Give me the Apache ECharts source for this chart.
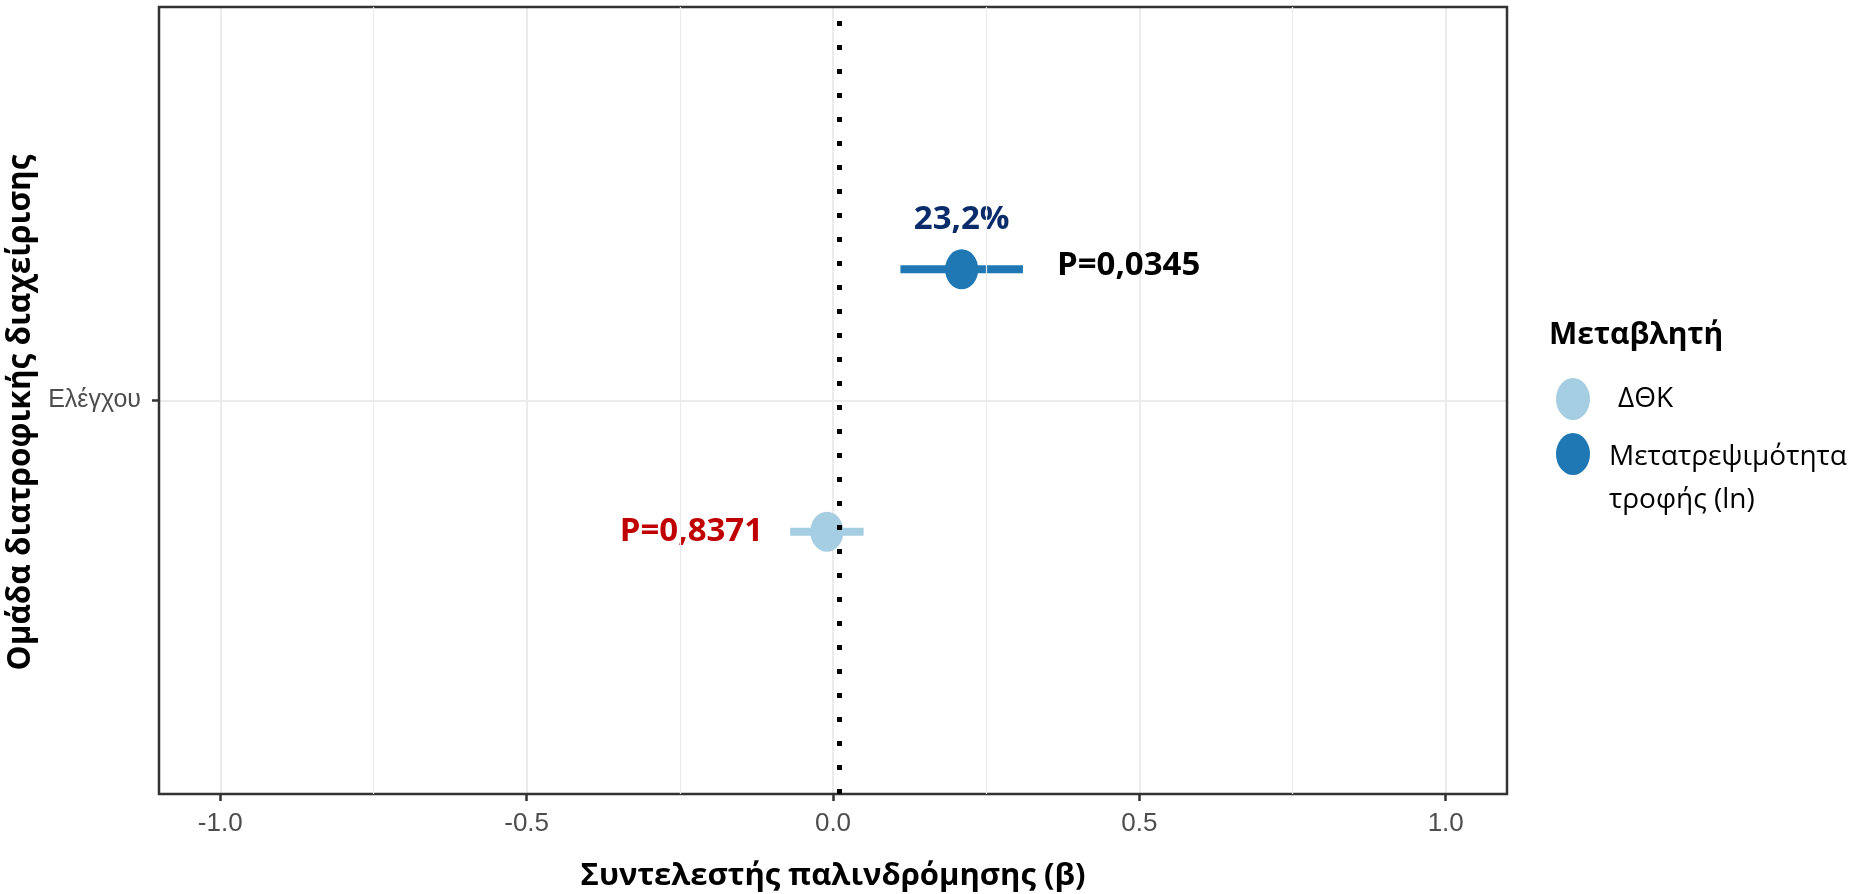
<!DOCTYPE html>
<html>
<head>
<meta charset="utf-8">
<style>
html,body{margin:0;padding:0;background:#fff;}
#chart{width:1862px;height:894px;}
</style>
<script src="https://cdn.jsdelivr.net/npm/echarts@6/dist/echarts.min.js"></script>
</head>
<body>
<div id="chart"></div>
<script>
// ---- data ----
const categories = ['Ελέγχου'];
const seriesNames = ['ΔΘΚ', 'Μετατρεψιμότητα τροφής (ln)'];
const estimates = [-0.01, 0.21];
const lowerCI = [-0.07, 0.11];
const upperCI = [0.05, 0.31];
const pLabels = ['P=0,8371', 'P=0,0345'];
const pctLabels = ['', '23,2%'];
const refLineValue = 0.01;
const xTicks = [-1.0, -0.5, 0.0, 0.5, 1.0];
const xMinorTicks = [-0.75, -0.25, 0.25, 0.75];
const yTicks = [1];

// ---- styles ----
const colors = ['#A6CEE3', '#1F78B4'];
const pLabelColors = ['#C00000', '#000000'];
const pctColor = '#0B2C6B';
const dodge = [-0.2, 0.2];
const boldFont = '"Open Sans", "Noto Sans", sans-serif';
const tickFont = '"Liberation Sans", Arial, sans-serif';

function makeRenderItem(si) {
  return function (params, api) {
    const yPos = api.value(0) + 1 + dodge[si];
    const pC = api.coord([api.value(1), yPos]);
    const pL = api.coord([api.value(2), yPos]);
    const pH = api.coord([api.value(3), yPos]);
    const children = [
      { type: 'line', shape: { x1: pL[0], y1: pL[1], x2: pH[0], y2: pH[1] },
        style: { stroke: colors[si], lineWidth: 8, lineCap: 'butt' } },
      { type: 'circle', shape: { cx: 0, cy: 0, r: 20 }, x: pC[0], y: pC[1], scaleX: 0.83,
        style: { fill: colors[si] } }
    ];
    if (si === 0) {
      children.push({ type: 'text', x: pL[0] - 27, y: pC[1],
        style: { text: pLabels[si], fill: pLabelColors[si], font: 'bold 33px ' + boldFont,
          align: 'right', verticalAlign: 'middle' } });
    } else {
      children.push({ type: 'text', x: pH[0] + 34, y: pC[1] - 4,
        style: { text: pLabels[si], fill: pLabelColors[si], font: 'bold 33px ' + boldFont,
          align: 'left', verticalAlign: 'middle' } });
    }
    if (pctLabels[si]) {
      children.push({ type: 'text', x: pC[0], y: pC[1] - 50,
        style: { text: pctLabels[si], fill: pctColor, font: 'bold 33px ' + boldFont,
          align: 'center', verticalAlign: 'middle' } });
    }
    return { type: 'group', children: children };
  };
}

const chart = echarts.init(document.getElementById('chart'), null, { renderer: 'canvas' });

const series = seriesNames.map(function (name, si) {
  return {
    type: 'custom', name: name, z: 3,
    renderItem: makeRenderItem(si),
    encode: { x: [1, 2, 3], y: 0 },
    data: categories.map(function (c, ci) { return [ci, estimates[si], lowerCI[si], upperCI[si]]; })
  };
});
series.unshift({
  type: 'line', name: 'minorGrid', data: [], z: 1, silent: true,
  markLine: { silent: true, symbol: 'none', label: { show: false }, animation: false,
    lineStyle: { color: '#EBEBEB', width: 1.2, type: 'solid' },
    data: xMinorTicks.map(function (v) { return { xAxis: v }; }) }
});
series.push({
  type: 'line', name: 'refLine', data: [], z: 10, silent: true,
  markLine: { silent: true, symbol: 'none', label: { show: false }, animation: false,
    lineStyle: { color: '#000', width: 5, type: [5, 19], cap: 'butt' },
    data: [{ xAxis: refLineValue }] }
});

const option = {
  animation: false,
  backgroundColor: '#fff',
  grid: { left: 159, right: 355, top: 7, bottom: 100, show: true, borderColor: '#333333', borderWidth: 2.5,
    backgroundColor: 'transparent', z: 5, containLabel: false, outerBoundsMode: 'none' },
  xAxis: {
    type: 'value', min: -1.1, max: 1.1,
    name: 'Συντελεστής παλινδρόμησης (β)', nameLocation: 'middle', nameGap: 67,
    nameTextStyle: { fontFamily: boldFont, fontWeight: 'bold', fontSize: 31, color: '#000' },
    axisLine: { show: false, onZero: false },
    axisTick: { show: true, length: 7, customValues: xTicks, lineStyle: { color: '#333', width: 2.5 } },
    axisLabel: { customValues: xTicks, margin: 17, color: '#4D4D4D', fontFamily: tickFont, fontSize: 26,
      formatter: function (v) { return v.toFixed(1); } },
    splitLine: { show: true, lineStyle: { color: '#EBEBEB', width: 2 } }
  },
  yAxis: {
    type: 'value', min: 0.4, max: 1.6,
    name: 'Ομάδα διατροφικής διαχείρισης', nameLocation: 'middle', nameGap: 78,
    nameTextStyle: { fontFamily: boldFont, fontWeight: 'bold', fontSize: 31.5, color: '#000', padding: [0, 24, 0, 0] },
    axisLine: { show: false, onZero: false },
    axisTick: { show: true, length: 7, customValues: yTicks, lineStyle: { color: '#333', width: 2.5 } },
    axisLabel: { customValues: yTicks, margin: 18, color: '#4D4D4D', fontFamily: tickFont, fontSize: 25,
      formatter: function (v) { return categories[Math.round(v) - 1]; } },
    splitLine: { show: true, lineStyle: { color: '#EBEBEB', width: 2 } }
  },
  graphic: [
    { type: 'text', left: 1549, top: 341 - 21, style: { text: 'Μεταβλητή', font: 'bold 30px ' + boldFont, fill: '#000' } },
    { type: 'circle', shape: { cx: 0, cy: 0, r: 21 }, x: 1573, y: 399, scaleX: 0.81, style: { fill: colors[0] } },
    { type: 'text', x: 1618, y: 399, style: { text: seriesNames[0], font: '28px ' + boldFont, fill: '#000', verticalAlign: 'middle' } },
    { type: 'circle', shape: { cx: 0, cy: 0, r: 21 }, x: 1573, y: 454, scaleX: 0.81, style: { fill: colors[1] } },
    { type: 'text', x: 1609, y: 457, style: { text: 'Μετατρεψιμότητα', font: '28px ' + boldFont, fill: '#000', verticalAlign: 'middle' } },
    { type: 'text', x: 1609, y: 500, style: { text: 'τροφής (ln)', font: '28px ' + boldFont, fill: '#000', verticalAlign: 'middle' } }
  ],
  series: series
};
chart.setOption(option);
</script>
</body>
</html>
